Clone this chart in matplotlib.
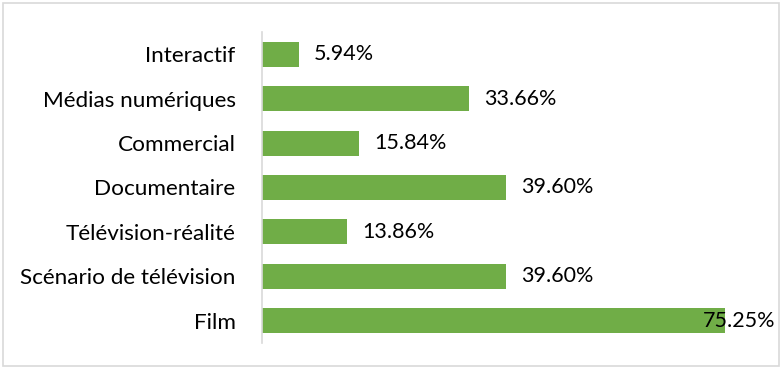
import numpy as np
import matplotlib.pyplot as plt
from matplotlib.patches import Rectangle

# categories listed top to bottom
categories = ["Interactif", "Médias numériques", "Commercial", "Documentaire",
              "Télévision-réalité", "Scénario de télévision", "Film"]
shares = [5.94, 33.66, 15.84, 39.60, 13.86, 39.60, 75.25]

GREEN = "#70AD47"
GRID = "#D9D9D9"

plt.rcParams['font.family'] = ['Lato', 'DejaVu Sans']

fig = plt.figure(figsize=(7.83, 3.69), dpi=100)
W, H = 783, 369
ax = fig.add_axes([262 / W, 1 - 343 / H, (754 - 262) / W, (343 - 32) / H])

y = np.arange(len(categories))
ax.barh(y, shares, height=0.565, color=GREEN)
ax.set_ylim(len(categories) - 0.5, -0.5)
ax.set_xlim(0, 80)

ax.set_yticks(y)
ax.set_yticklabels(categories, fontsize=16.2)
ax.tick_params(axis='y', length=0, pad=19)
ax.set_xticks([])
for side in ['top', 'right', 'bottom']:
    ax.spines[side].set_visible(False)
ax.spines['left'].set_color(GRID)
ax.spines['left'].set_linewidth(1.2)

# value labels; the longest one sits over the end of its bar
top = max(shares)
for yi, v in zip(y, shares):
    txt = f"{v:.2f}%"
    if v == top:
        ax.annotate(txt, (v, yi), xytext=(-16, 0), textcoords='offset points',
                    va='center', ha='left', fontsize=15.5)
    else:
        ax.annotate(txt, (v, yi), xytext=(11, 0), textcoords='offset points',
                    va='center', ha='left', fontsize=15.5)

# outer chart frame
fig.patches.append(Rectangle((3 / W, 3 / H), (779 - 3) / W, (366 - 3) / H,
                             transform=fig.transFigure, fill=False,
                             edgecolor=GRID, linewidth=1.2))

fig.savefig("out.png", dpi=100)
